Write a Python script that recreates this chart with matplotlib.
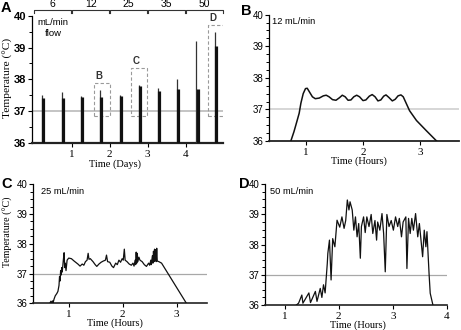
import numpy as np
import matplotlib
matplotlib.use("Agg")
import matplotlib.pyplot as plt
from matplotlib.ticker import MultipleLocator
from matplotlib.patches import Rectangle
import matplotlib.transforms as mtransforms

# ---------------- data ----------------
# Panel A: daily spikes (day position, higher thin peak, lower thick peak)
spike_days = [0.25, 0.77, 1.27, 1.77, 2.28, 2.78, 3.29, 3.79, 4.30, 4.79]
spike_hi = [37.50, 37.60, 37.47, 37.65, 37.50, 37.83, 37.72, 38.00, 39.20, 39.50]
spike_lo = [37.42, 37.42, 37.45, 37.45, 37.47, 37.78, 37.62, 37.70, 37.70, 39.05]
flow_rates = ["6", "12", "25", "35", "50"]
flow_days = [0, 1, 2, 3, 4]
box_labels = ["B", "C", "D"]
box_x0 = [1.59, 2.57, 4.59]
box_x1 = [2.00, 2.99, 5.00]
box_y0 = [36.85, 36.85, 36.85]
box_y1 = [37.90, 38.35, 39.70]

# Panel B: 12 mL/min
b_time = [0.745, 0.80, 0.85, 0.89, 0.92, 0.96, 1.00, 1.03, 1.07, 1.12, 1.17, 1.24,
          1.31, 1.36, 1.41, 1.47, 1.53, 1.59, 1.64, 1.69, 1.74, 1.79, 1.84, 1.89,
          1.94, 2.00, 2.05, 2.11, 2.16, 2.21, 2.26, 2.31, 2.36, 2.40, 2.45, 2.51,
          2.56, 2.61, 2.66, 2.70, 2.81, 2.93, 3.10, 3.28]
b_temp = [36.00, 36.30, 36.62, 36.88, 37.20, 37.50, 37.66, 37.67, 37.55, 37.40, 37.34, 37.36,
          37.43, 37.45, 37.40, 37.31, 37.29, 37.37, 37.45, 37.40, 37.29, 37.30, 37.40, 37.45,
          37.40, 37.28, 37.30, 37.42, 37.47, 37.40, 37.27, 37.30, 37.42, 37.46, 37.38, 37.27,
          37.32, 37.43, 37.46, 37.40, 36.96, 36.65, 36.33, 36.00]

# Panel C: 25 mL/min
c_time = [0.65, 0.67, 0.68, 0.70, 0.71, 0.73, 0.75, 0.78, 0.80, 0.82, 0.83, 0.84, 0.85, 0.86,
          0.87, 0.88, 0.90, 0.915, 0.925, 0.935, 0.95, 0.97, 1.00, 1.05, 1.10, 1.17, 1.21,
          1.25, 1.28, 1.31, 1.34, 1.36, 1.375, 1.40, 1.45, 1.49, 1.52, 1.56, 1.60, 1.64,
          1.68, 1.70, 1.72, 1.76, 1.80, 1.83, 1.87, 1.90, 1.93, 1.96, 1.99, 2.01, 2.03,
          2.045, 2.08, 2.12, 2.16, 2.19, 2.21, 2.23, 2.24, 2.25, 2.26, 2.27, 2.28, 2.30,
          2.32, 2.36, 2.40, 2.44, 2.48, 2.50, 2.52, 2.53, 2.55, 2.56, 2.57, 2.58, 2.59,
          2.60, 2.61, 2.62, 2.63, 2.64, 2.67, 2.72, 3.18]
c_temp = [36.00, 36.07, 36.00, 36.08, 36.02, 36.15, 36.25, 36.33, 36.40, 36.60, 36.90, 36.75,
          37.10, 36.95, 37.20, 37.05, 37.45, 37.70, 37.20, 37.35, 37.10, 37.45, 37.52, 37.50,
          37.42, 37.32, 37.25, 37.32, 37.28, 37.40, 37.45, 37.68, 37.48, 37.50, 37.40, 37.30,
          37.24, 37.32, 37.38, 37.42, 37.45, 37.62, 37.40, 37.38, 37.25, 37.20, 37.35, 37.30,
          37.45, 37.38, 37.50, 37.45, 37.82, 37.45, 37.40, 37.32, 37.28, 37.35, 37.25, 37.45,
          37.30, 37.72, 37.35, 37.68, 37.40, 37.55, 37.45, 37.40, 37.30, 37.24, 37.35, 37.28,
          37.45, 37.30, 37.60, 37.35, 37.75, 37.40, 37.82, 37.45, 37.80, 37.40, 37.85, 37.42,
          37.40, 37.35, 36.00]

# Panel D: 50 mL/min
d_time = [1.22, 1.26, 1.32, 1.34, 1.45, 1.48, 1.57, 1.60, 1.66, 1.69, 1.72, 1.75, 1.79, 1.80,
          1.83, 1.86, 1.89, 1.93, 1.97, 2.02, 2.06, 2.10, 2.13, 2.16, 2.19, 2.21, 2.25, 2.28,
          2.31, 2.34, 2.37, 2.40, 2.42, 2.46, 2.49, 2.52, 2.56, 2.60, 2.63, 2.67, 2.70, 2.72,
          2.76, 2.80, 2.83, 2.86, 2.89, 2.93, 2.97, 3.01, 3.05, 3.09, 3.12, 3.16, 3.19, 3.24,
          3.26, 3.29, 3.32, 3.35, 3.38, 3.42, 3.46, 3.49, 3.52, 3.55, 3.58, 3.61, 3.63, 3.65,
          3.67, 3.69, 3.74]
d_temp = [36.00, 36.06, 36.33, 36.06, 36.40, 36.08, 36.45, 36.12, 36.55, 36.25, 36.67, 36.40,
          37.38, 37.71, 38.15, 36.83, 38.20, 37.93, 38.81, 38.58, 38.92, 38.54, 38.80, 39.48,
          39.15, 39.42, 39.15, 38.48, 38.92, 38.26, 38.70, 37.55, 38.60, 38.92, 38.40, 38.92,
          38.60, 39.00, 38.37, 38.80, 38.15, 38.75, 38.48, 39.03, 38.37, 37.10, 39.00, 38.60,
          38.80, 38.48, 38.92, 38.60, 38.87, 38.26, 38.75, 38.92, 37.21, 38.87, 38.37, 38.87,
          38.48, 39.03, 38.26, 38.70, 38.15, 37.60, 38.48, 37.93, 38.43, 37.71, 37.00, 36.39,
          36.00]

# ---------------- style ----------------
SERIF = "Liberation Serif"
SANS = "Liberation Sans"
W, H = 461, 330

fig = plt.figure(figsize=(W / 100, H / 100), dpi=100)


def px_axes(left, right, top, bottom):
    return fig.add_axes([left / W, 1 - bottom / H, (right - left) / W, (bottom - top) / H])


def style_axes(ax, xlim, xticks, minor, ybold, ysize, ref_color, ref_lw, bottom_lw):
    ax.set_xlim(*xlim)
    ax.set_ylim(36, 40)
    for s in ["top", "right"]:
        ax.spines[s].set_visible(False)
    ax.spines["left"].set_linewidth(0.9)
    ax.spines["bottom"].set_linewidth(bottom_lw)
    ax.spines["bottom"].set_color("#222222")
    ax.set_yticks([36, 37, 38, 39, 40])
    ax.yaxis.set_minor_locator(MultipleLocator(minor))
    ax.set_xticks(xticks)
    ax.tick_params(axis="both", which="major", direction="out", length=3.0, width=0.8, pad=1.2)
    ax.tick_params(axis="x", which="major", pad=2.0)
    ax.tick_params(axis="y", which="minor", direction="out", length=2.0, width=0.7)
    for lab in ax.get_yticklabels():
        lab.set_fontfamily(SANS)
        lab.set_fontsize(ysize)
        lab.set_fontweight("bold" if ybold else "normal")
    for lab in ax.get_xticklabels():
        lab.set_fontfamily(SERIF)
        lab.set_fontsize(8)
    ax.axhline(37, color=ref_color, lw=ref_lw, zorder=1)


# ---------------- Panel A ----------------
axA = px_axes(32, 223, 15.7, 143)
style_axes(axA, (-0.04, 4.98), [1, 2, 3, 4], 0.5, True, 8, "#c4c4c4", 1.4, 1.6)
sd = np.array(spike_days)
axA.vlines(sd - 0.02, 36, spike_hi, color="#333333", lw=0.9, zorder=3)
axA.vlines(sd + 0.012, 36, spike_lo, color="#111111", lw=2.3, zorder=3)
for lab, x0, x1, y0, y1 in zip(box_labels, box_x0, box_x1, box_y0, box_y1):
    axA.add_patch(Rectangle((x0, y0), x1 - x0, y1 - y0, fill=False, ls=(0, (3, 2)),
                            lw=0.8, ec="#9a9a9a", zorder=2))
    axA.text(x0 + 0.03, y1 + 0.06, lab, ha="left", va="bottom", fontfamily=SANS,
             fontweight="bold", fontsize=7, color="#333333")
trans = mtransforms.blended_transform_factory(axA.transData, axA.transAxes)
for lab, d in zip(flow_rates, flow_days):
    x0 = d + (0.02 if d > 0 else 0.0)
    x1 = d + 0.98
    axA.plot([x0, x0, x1, x1], [1.024, 1.042, 1.042, 1.024], transform=trans,
             color="#333333", lw=0.8, clip_on=False)
    axA.text((x0 + x1) / 2, 1.088, lab, transform=trans, ha="center", va="center",
             fontfamily=SANS, fontsize=7.5)
axA.text(0.03, 0.985, "mL/min\nflow", transform=axA.transAxes, ha="left", va="top",
         fontfamily=SANS, fontsize=6.8, multialignment="center", linespacing=1.35)
axA.set_xlabel("Time (Days)", fontfamily=SERIF, fontsize=7.5, va="center", ha="center")
axA.xaxis.set_label_coords(0.435, -0.163)
axA.set_ylabel("Temperature (°C)", fontfamily=SERIF, fontsize=8.2, va="center", ha="center")
axA.yaxis.set_label_coords(-0.126, 0.515)

# ---------------- Panel B ----------------
axB = px_axes(269, 459, 14.7, 141)
style_axes(axB, (0.365, 3.67), [1, 2, 3], 0.25, False, 7, "#cfcfcf", 1.2, 1.3)
axB.plot(b_time, b_temp, color="#111111", lw=1.1, zorder=3, clip_on=True)
axB.text(0.015, 0.985, "12 mL/min", transform=axB.transAxes, ha="left", va="top",
         fontfamily=SANS, fontsize=6.7)
axB.set_xlabel("Time (Hours)", fontfamily=SERIF, fontsize=7.5, va="center", ha="center")
axB.xaxis.set_label_coords(0.474, -0.16)

# ---------------- Panel C ----------------
axC = px_axes(33.3, 207.3, 184.3, 303.3)
style_axes(axC, (0.344, 3.567), [1, 2, 3], 0.25, False, 7, "#a8a8a8", 0.9, 1.2)
axC.plot(c_time, c_temp, color="#111111", lw=0.9, zorder=3)
axC.text(0.045, 0.975, "25 mL/min", transform=axC.transAxes, ha="left", va="top",
         fontfamily=SANS, fontsize=6.7)
axC.set_xlabel("Time (Hours)", fontfamily=SERIF, fontsize=7.5, va="center", ha="center")
axC.xaxis.set_label_coords(0.472, -0.171)
axC.set_ylabel("Temperature (°C)", fontfamily=SERIF, fontsize=7.2, va="center", ha="center")
axC.yaxis.set_label_coords(-0.145, 0.60)

# ---------------- Panel D ----------------
axD = px_axes(265, 447, 184.3, 305)
style_axes(axD, (0.64, 4.0), [1, 2, 3, 4], 0.25, False, 7, "#a8a8a8", 0.9, 1.2)
axD.plot(d_time, d_temp, color="#111111", lw=0.9, zorder=3)
axD.text(0.025, 0.975, "50 mL/min", transform=axD.transAxes, ha="left", va="top",
         fontfamily=SANS, fontsize=6.7)
axD.set_xlabel("Time (Hours)", fontfamily=SERIF, fontsize=7.5, va="center", ha="center")
axD.xaxis.set_label_coords(0.512, -0.168)

# ---------------- panel letters ----------------
for letter, (cx, cy) in zip("ABCD", [(6, 7.5), (246.7, 10.8), (6.7, 183.5), (244.5, 183.5)]):
    fig.text(cx / W, 1 - cy / H, letter, ha="center", va="center", fontfamily=SANS,
             fontweight="bold", fontsize=10.5)

fig.savefig("out.png", dpi=100)
